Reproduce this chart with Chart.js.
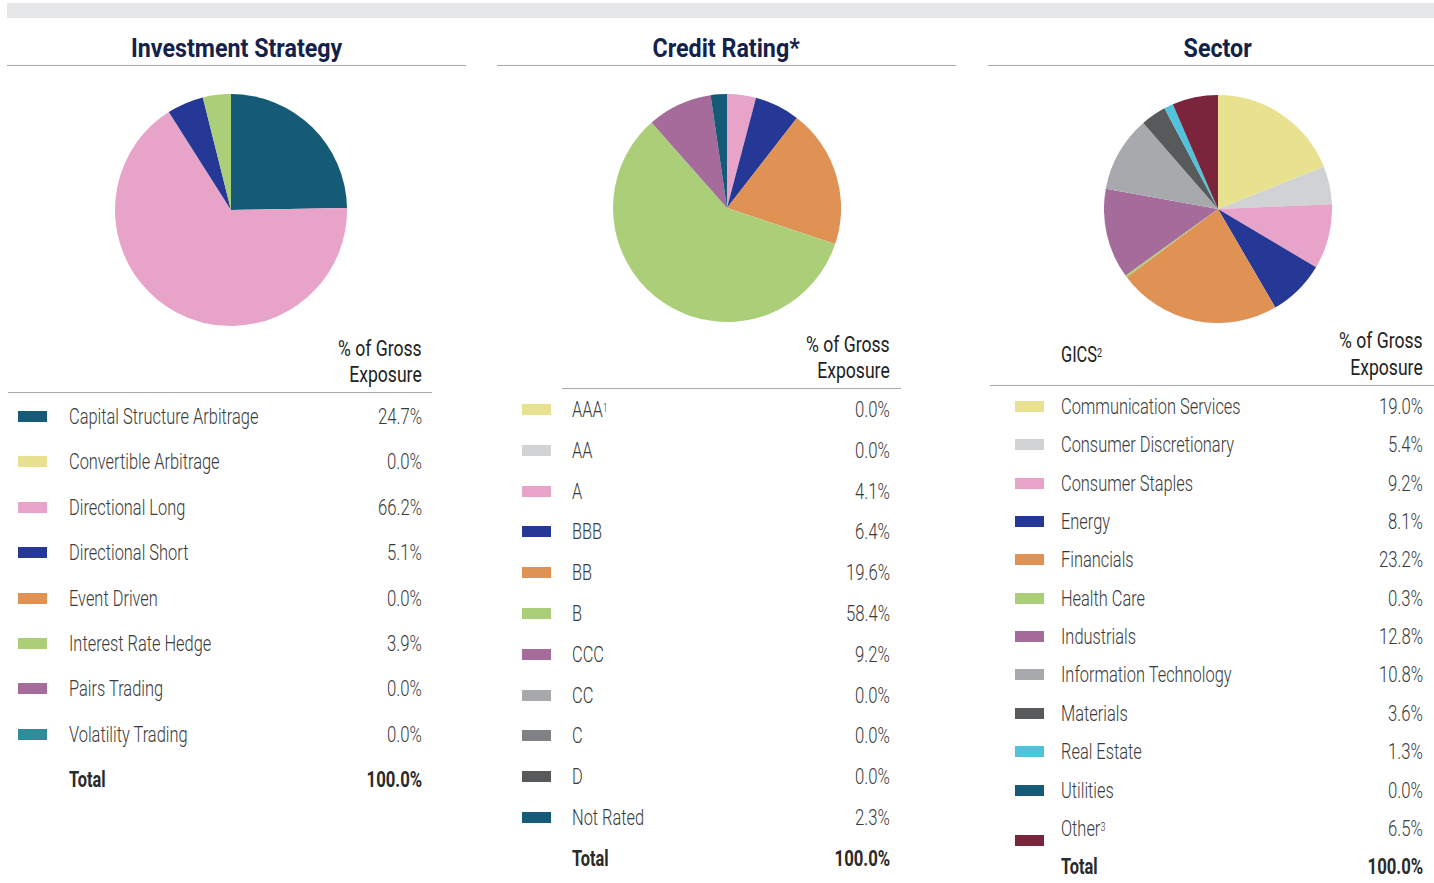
<!DOCTYPE html>
<html>
<head>
<meta charset="utf-8">
<script src="https://cdn.jsdelivr.net/npm/chart.js@4.4.0/dist/chart.umd.min.js"></script>
<style>
  html, body { margin: 0; padding: 0; background: #fff; }
  body { width: 1434px; height: 883px; position: relative; overflow: hidden; font-family: Roboto, 'Noto Sans', sans-serif; color: #3a3a3a; }
  .topbar { position: absolute; left: 7px; top: 3px; width: 1427px; height: 15px; background: #e6e7e8; }
  .title { position: absolute; top: 34px; height: 32px; text-align: center; font-weight: 700; font-size: 25px; color: #14224b; }
  .title span { display: inline-block; transform: scaleX(0.93); }
  .rule { position: absolute; height: 1px; background: #a7a9ac; }
  .pie { position: absolute; }
  .txt { position: absolute; font-size: 22px; font-weight: 300; white-space: nowrap; line-height: 24px; }
  .txt.l { transform: scaleX(0.745); transform-origin: left center; }
  .txt.r { transform: scaleX(0.76); transform-origin: right center; text-align: right; }
  .txt.b { font-weight: 700; color: #2a2a2a; }
  .txt.r.hdr { transform: scaleX(0.8); }
  .hdr { font-weight: 400; color: #222; }
  .sw { position: absolute; width: 29px; height: 11px; }
  sup { font-size: 12px; vertical-align: top; position: relative; top: -2px; }
</style>
</head>
<body>
<div class="topbar"></div>

<script>
'use strict';

// Investment Strategy
const strategyLabels = ['Capital Structure Arbitrage', 'Convertible Arbitrage', 'Directional Long', 'Directional Short',
  'Event Driven', 'Interest Rate Hedge', 'Pairs Trading', 'Volatility Trading'];
const strategyValues = [24.7, 0.0, 66.2, 5.1, 0.0, 3.9, 0.0, 0.0];
const strategyColors = ['#155b78', '#e8e290', '#e7a3c8', '#263895', '#e09255', '#abcf79', '#a46b9b', '#2f8c9b'];

// Credit Rating
const ratingLabels = ['AAA<sup>1</sup>', 'AA', 'A', 'BBB', 'BB', 'B', 'CCC', 'CC', 'C', 'D', 'Not Rated'];
const ratingValues = [0.0, 0.0, 4.1, 6.4, 19.6, 58.4, 9.2, 0.0, 0.0, 0.0, 2.3];
const ratingColors = ['#e8e290', '#d1d2d4', '#e7a3c8', '#263895', '#e09255', '#abcf79', '#a46b9b', '#a8a9ac', '#808184', '#58595b', '#155b78'];

// Sector (GICS)
const sectorLabels = ['Communication Services', 'Consumer Discretionary', 'Consumer Staples', 'Energy', 'Financials',
  'Health Care', 'Industrials', 'Information Technology', 'Materials', 'Real Estate', 'Utilities', 'Other<sup>3</sup>'];
const sectorValues = [19.0, 5.4, 9.2, 8.1, 23.2, 0.3, 12.8, 10.8, 3.6, 1.3, 0.0, 6.5];
const sectorColors = ['#e8e290', '#d1d2d4', '#e7a3c8', '#263895', '#e09255', '#abcf79', '#a46b9b', '#a8a9ac', '#58595b', '#4fc3dc', '#155b78', '#7a253b'];

const panels = [
  { title: 'Investment Strategy', titleX: 7, titleW: 459, ruleX: 7, ruleW: 459,
    pie: { x: 115, y: 94, size: 232 }, labels: strategyLabels, values: strategyValues, colors: strategyColors,
    hdrRight: 422, hdrY: [337, 363], hdrLine: { x: 8, w: 424, y: 392 }, gics: false,
    rowY0: 417, rowStep: 45.4, swX: 18, labelX: 69, valRight: 422 },
  { title: 'Credit Rating*', titleX: 497, titleW: 459, ruleX: 497, ruleW: 459,
    pie: { x: 613, y: 94, size: 228 }, labels: ratingLabels, values: ratingValues, colors: ratingColors,
    hdrRight: 890, hdrY: [333, 359], hdrLine: { x: 562, w: 339, y: 388 }, gics: false,
    rowY0: 410, rowStep: 40.8, swX: 522, labelX: 572, valRight: 890 },
  { title: 'Sector', titleX: 988, titleW: 459, ruleX: 988, ruleW: 446,
    pie: { x: 1104, y: 95, size: 228 }, labels: sectorLabels, values: sectorValues, colors: sectorColors,
    hdrRight: 1423, hdrY: [329, 356], hdrLine: { x: 990, w: 444, y: 385 }, gics: true,
    rowY0: 407, rowStep: 38.35, swX: 1015, labelX: 1061, valRight: 1423 },
];

function addEl(cls, style, html) {
  const d = document.createElement('div');
  d.className = cls;
  Object.assign(d.style, style);
  if (html !== undefined) d.innerHTML = html;
  document.body.appendChild(d);
  return d;
}

panels.forEach(p => {
  addEl('title', { left: p.titleX + 'px', width: p.titleW + 'px' }, `<span>${p.title}</span>`);
  addEl('rule', { left: p.ruleX + 'px', width: p.ruleW + 'px', top: '65px' });

  // header
  addEl('txt r hdr', { right: (1434 - p.hdrRight) + 'px', top: p.hdrY[0] + 'px' }, '% of Gross');
  addEl('txt r hdr', { right: (1434 - p.hdrRight) + 'px', top: p.hdrY[1] + 'px' }, 'Exposure');
  if (p.gics) addEl('txt l hdr', { left: p.labelX + 'px', top: '343px' }, 'GICS<sup>2</sup>');
  addEl('rule', { left: p.hdrLine.x + 'px', width: p.hdrLine.w + 'px', top: p.hdrLine.y + 'px' });

  // rows
  p.labels.forEach((lab, i) => {
    const cy = p.rowY0 + i * p.rowStep;
    let swY = cy - 6;
    if (p.gics && i === p.labels.length - 1) swY = cy + 6;
    addEl('sw', { left: p.swX + 'px', top: swY + 'px', background: p.colors[i] });
    addEl('txt l', { left: p.labelX + 'px', top: (cy - 12) + 'px' }, lab);
    addEl('txt r', { right: (1434 - p.valRight) + 'px', top: (cy - 12) + 'px' }, p.values[i].toFixed(1) + '%');
  });
  const ty = p.rowY0 + p.labels.length * p.rowStep;
  addEl('txt l b', { left: p.labelX + 'px', top: (ty - 12) + 'px' }, 'Total');
  addEl('txt r b', { right: (1434 - p.valRight) + 'px', top: (ty - 12) + 'px' }, '100.0%');

  // pie
  const wrap = addEl('pie', { left: p.pie.x + 'px', top: p.pie.y + 'px', width: p.pie.size + 'px', height: p.pie.size + 'px' });
  const canvas = document.createElement('canvas');
  canvas.width = p.pie.size;
  canvas.height = p.pie.size;
  wrap.appendChild(canvas);
  new Chart(canvas, {
    type: 'pie',
    data: {
      labels: p.labels,
      datasets: [{
        data: p.values,
        backgroundColor: p.colors,
        borderWidth: 0,
      }],
    },
    options: {
      responsive: false,
      animation: false,
      layout: { padding: 0 },
      plugins: { legend: { display: false }, tooltip: { enabled: false } },
    },
  });
});
</script>
</body>
</html>
